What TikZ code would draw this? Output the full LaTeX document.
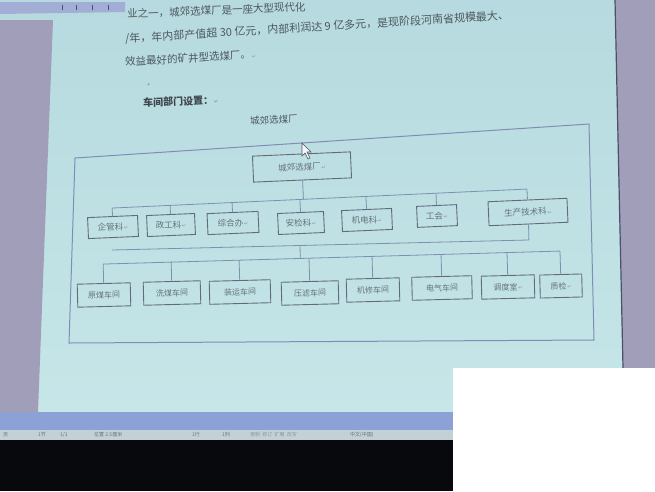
\documentclass[tikz,border=0pt]{standalone}
\usepackage{fontspec}
\setmainfont{Noto Sans CJK SC}
\newfontfamily\sym{DejaVu Sans}
\usetikzlibrary{calc}
\definecolor{screentop}{HTML}{B6DADF}
\definecolor{screenbot}{HTML}{C6E6E8}
\definecolor{sidepurple}{HTML}{A19EBA}
\definecolor{darkedge}{HTML}{4E4E66}
\definecolor{rulerc}{HTML}{A3AED6}
\definecolor{taskblue}{HTML}{8CA2D6}
\definecolor{statusgrey}{HTML}{C3D1D6}
\definecolor{nightc}{HTML}{07090D}
\definecolor{framec}{HTML}{7F8DB6}
\definecolor{boxc}{HTML}{626B7E}
\definecolor{connc}{HTML}{7E8FB0}
\definecolor{labc}{HTML}{66727B}
\definecolor{bodyc}{HTML}{4D5860}
\definecolor{markc}{HTML}{8A969E}
\newcommand\parmark{{\sym\fontsize{5}{5}\selectfont\color{markc}\,↵}}
\tikzset{
  box/.style={draw=boxc, line width=0.9pt, inner sep=0pt, text=labc,
    font=\fontsize{8.5}{9}\selectfont},
  rowtwo/.style={box, minimum height=21pt, rotate=2.5},
  rowthree/.style={box, minimum height=23pt, rotate=1.5,
    font=\fontsize{8}{9}\selectfont},
  conn/.style={draw=connc, line width=0.8pt},
  body/.style={anchor=west, text=bodyc, inner sep=0pt, rotate=3.5},
  stat/.style={anchor=west, text=labc, inner sep=0pt, font=\fontsize{5}{6}\selectfont}
}
\begin{document}
\begin{tikzpicture}[x=1pt,y=-1pt]
\useasboundingbox (0,0) rectangle (655,491);
% screen background
\shade[top color=screentop, bottom color=screenbot] (0,0) rectangle (655,412);
% side strips
\fill[sidepurple] (0,20) -- (53,20) -- (38,412) -- (0,412) -- cycle;
\fill[sidepurple] (615,0) -- (655,0) -- (655,368) -- (623,368) -- cycle;
\draw[darkedge, line width=1.2pt] (615,0) -- (623,368);
% ruler band top-left
\fill[rulerc] (0,2) -- (125,2) -- (125,12) -- (0,14) -- cycle;
\foreach \tx in {62,76,92,108} \draw[darkedge, line width=0.8pt] (\tx,5) -- (\tx,10);
% bottom bars
\fill[taskblue] (0,412) rectangle (453,430);
\fill[statusgrey] (0,430) rectangle (453,440);
\fill[nightc] (0,440) rectangle (453,491);
\fill[white] (453,368) rectangle (655,491);
\node[stat] (s1) at (3,435) {页};
\node[stat] (s2) at (38,435) {1节};
\node[stat] (s3) at (60,435) {1/1};
\node[stat] (s4) at (94,435) {位置 2.5厘米};
\node[stat] (s5) at (192,435) {1行};
\node[stat] (s6) at (222,435) {1列};
\node[stat, text=markc] (s7) at (250,435) {录制\ \ 修订\ \ 扩展\ \ 改写};
\node[stat] (s8) at (350,435) {中文(中国)};
% body text
\node[body, rotate=-1.2, font=\fontsize{10.5}{12}\selectfont] (t1) at (127,14) {业之一，城郊选煤厂是一座大型现代化};
\node[body, font=\fontsize{11}{13}\selectfont] (t2) at (125,39) {/年，年内部产值超 30 亿元，内部利润达 9 亿多元，是现阶段河南省规模最大、};
\node[body, font=\fontsize{10.5}{12}\selectfont] (t3) at (125,62) {效益最好的矿井型选煤厂。\parmark};
\node[body, text=markc, font=\fontsize{9}{9}\selectfont] (t4) at (144,86) {·};
\node[body, rotate=-1, font=\fontsize{10}{12}\selectfont\bfseries, text=bodyc!80!black] (t5) at (143,103) {车间部门设置：\parmark};
\node[text=bodyc, inner sep=0pt, rotate=3, font=\fontsize{9.5}{11}\selectfont] (title) at (274,120) {城郊选煤厂};
% frame
\draw[framec, line width=1pt] (75,158) -- (589,124) -- (594,340) -- (69,343) -- cycle;
% top box
\node[box, minimum width=98pt, minimum height=26pt, rotate=2.5] (top) at (302,167) {城郊选煤厂\parmark};
% second row
\node[rowtwo, minimum width=50pt] (qg) at (113,227) {企管科\parmark};
\node[rowtwo, minimum width=48pt] (zg) at (171,225) {政工科\parmark};
\node[rowtwo, minimum width=51pt] (zh) at (233,223) {综合办\parmark};
\node[rowtwo, minimum width=46pt] (aj) at (301,223) {安检科\parmark};
\node[rowtwo, minimum width=50pt] (jd) at (367,220) {机电科\parmark};
\node[rowtwo, minimum width=40pt] (gh) at (437,216) {工会\parmark};
\node[rowtwo, minimum width=79pt, minimum height=24pt] (sc) at (528,212) {生产技术科\parmark};
% third row
\node[rowthree, minimum width=53pt] (ym) at (104,295) {原煤车间};
\node[rowthree, minimum width=57pt] (xm) at (172,293) {洗煤车间};
\node[rowthree, minimum width=61pt] (zy) at (240,292) {装运车间};
\node[rowthree, minimum width=57pt] (yl) at (310,293) {压滤车间};
\node[rowthree, minimum width=53pt] (jx) at (373,290) {机修车间};
\node[rowthree, minimum width=60pt] (dq) at (442,288) {电气车间};
\node[rowthree, minimum width=53pt] (dd) at (508,287) {调度室\parmark};
\node[rowthree, minimum width=42pt] (zj) at (561,286) {质检\parmark};
% bus lines
\coordinate (b1L) at (113,208);
\coordinate (b1R) at (528,189);
\coordinate (aL) at (112,250);
\coordinate (aR) at (528,240);
\coordinate (bL) at (105,264);
\coordinate (bR) at (562,251);
\draw[conn] (top.south) -- ($(b1L)!(top.south)!(b1R)$);
\draw[conn] ($(b1L)!(qg.north)!(b1R)$) -- ($(b1L)!(sc.north)!(b1R)$);
\foreach \n in {qg,zg,zh,aj,jd,gh,sc}
  \draw[conn] (\n.north) -- ($(b1L)!(\n.north)!(b1R)$);
\coordinate (aS) at ($(aL)!(sc.south)!(aR)$);
\draw[conn] (sc.south) -- (aS);
\draw[conn] (aL) -- (aS);
\coordinate (aM) at ($(aL)!(300,245)!(aR)$);
\draw[conn] (aM) -- ($(bL)!(aM)!(bR)$);
\draw[conn] ($(bL)!(ym.north)!(bR)$) -- ($(bL)!(zj.north)!(bR)$);
\foreach \n in {ym,xm,zy,yl,jx,dq,dd,zj}
  \draw[conn] (\n.north) -- ($(bL)!(\n.north)!(bR)$);
% mouse cursor
\filldraw[fill=white!85!screentop, draw=darkedge, line width=0.6pt]
  (302,143) -- (302,156) -- (305,153) -- (308,159) -- (310,158) -- (307,152) -- (311,152) -- cycle;
\end{tikzpicture}
\end{document}
